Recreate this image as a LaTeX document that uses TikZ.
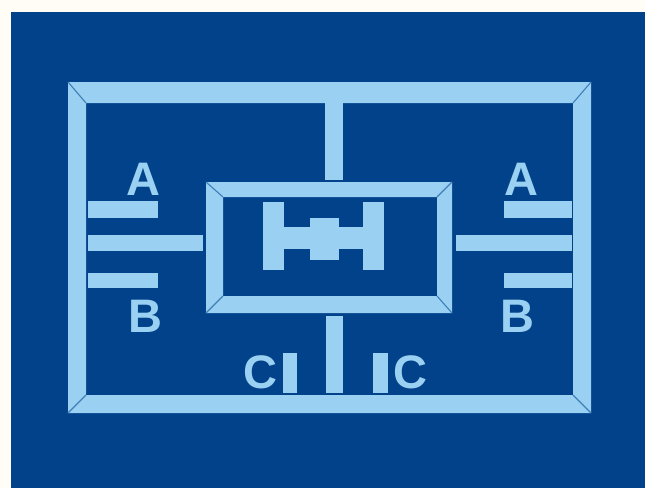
\documentclass[tikz,border=0pt]{standalone}
\usepackage{fontspec}
\setmainfont{Liberation Sans}
\definecolor{paper}{HTML}{FFFDF6}
\definecolor{deep}{HTML}{01428A}
\definecolor{pale}{HTML}{9AD0F2}
\definecolor{seam}{HTML}{3F7FB8}
\tikzset{
  part/.style={fill=pale,draw=none},
  seamline/.style={draw=seam,line width=1.1pt},
  letter/.style={text=pale,inner sep=0pt,font=\bfseries\fontsize{47}{47}\selectfont},
}
\newcommand{\mitreframe}[8]{%
  \fill[part] (#1,#2) -- (#3,#2) -- (#3,#4) -- (#1,#4) -- cycle
    (#5,#6) -- (#5,#8) -- (#7,#8) -- (#7,#6) -- cycle;
  \draw[seamline] (#1,#2) -- (#5,#6) (#3,#2) -- (#7,#6) (#3,#4) -- (#7,#8) (#1,#4) -- (#5,#8);
}
\begin{document}
\begin{tikzpicture}[x=1pt,y=-1pt]
\useasboundingbox (0,0) rectangle (645,488);
\fill[paper] (0,0) rectangle (645,488);
\fill[deep] (11,12) rectangle (645,488);
% outer frame
\mitreframe{68}{82}{591}{413}{86}{103}{573}{395}
% inner frame
\mitreframe{206}{182}{452}{313}{223}{197}{437}{296}
% centre symbol
\fill[part] (263,202) rectangle (284,270);
\fill[part] (363,202) rectangle (384,270);
\fill[part] (284,227) rectangle (363,249);
\fill[part] (310,218) rectangle (339,260);
% verticals
\fill[part] (325,103) rectangle (343,180);
\fill[part] (326,316) rectangle (343,393);
% left plates
\fill[part] (88,201) rectangle (158,218);
\fill[part] (88,235) rectangle (203,251);
\fill[part] (88,273) rectangle (158,288);
% right plates
\fill[part] (504,201) rectangle (572,218);
\fill[part] (456,235) rectangle (572,251);
\fill[part] (504,273) rectangle (572,288);
% C plates
\fill[part] (283,353) rectangle (297,393);
\fill[part] (373,353) rectangle (388,393);
% labels
\node[letter,anchor=base] (a1) at (143.5,195) {A};
\node[letter,anchor=base] (a2) at (521,195) {A};
\node[letter,anchor=base] (b1) at (145,332) {B};
\node[letter,anchor=base] (b2) at (517,332) {B};
\node[letter,anchor=base] (c1) at (260,388) {C};
\node[letter,anchor=base] (c2) at (410,388) {C};
\end{tikzpicture}
\end{document}
